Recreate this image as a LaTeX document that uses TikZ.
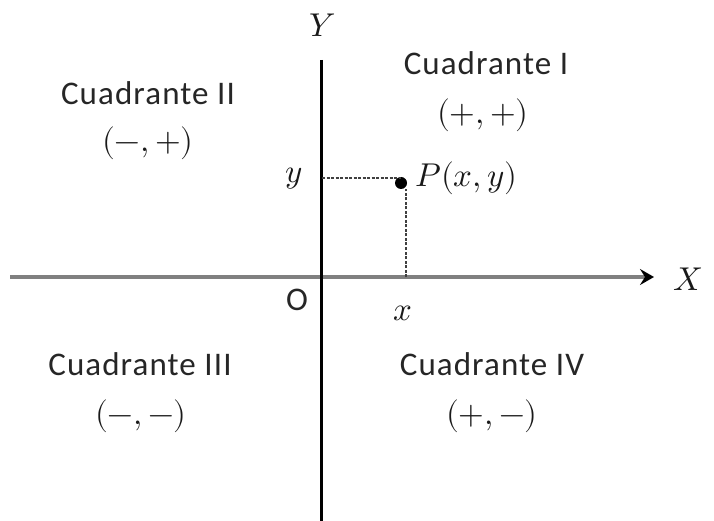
\documentclass[tikz,border=0pt]{standalone}
\usepackage{fontspec}
\usepackage{unicode-math}
\setmainfont{Carlito}[LetterSpace=3.3]
\setmathfont{Latin Modern Math}
\usetikzlibrary{arrows.meta}
\tikzset{
  lbl/.style={anchor=base, inner sep=0pt, text=black!85, font=\fontsize{33}{40}\selectfont},
  mlbl/.style={anchor=base, inner sep=0pt, text=black!90, font=\fontsize{33}{40}\selectfont},
  guide/.style={line width=1.5pt, black!75, dash pattern=on 3pt off 1.5pt},
}
\begin{document}
\begin{tikzpicture}[x=1pt,y=-1pt]
\useasboundingbox (0,0) rectangle (714,521);
% axes
\coordinate (xs) at (10,277);
\coordinate (xe) at (654,277);
\coordinate (yt) at (321,60);
\coordinate (yb) at (321,521);
\draw[line width=4pt, black!50, -{Stealth[color=black, length=14pt, width=16pt, inset=5pt]}] (xs) -- (xe);
\draw[line width=3pt, black] (yt) -- (yb);
% point
\node[circle, fill=black, inner sep=0pt, minimum size=12pt] (pt) at (401,183) {};
\coordinate (hy) at (322,178);
\coordinate (vx) at (406,277);
\draw[guide] (hy) -- (hy -| pt.center);
\draw[guide] (vx) -- (vx |- pt.south);
% labels
\node[mlbl] (Ylab) at (323,37) {$Y$};
\node[mlbl] (Xlab) at (688,290) {$X$};
\node[mlbl] (ylab) at (294,183) {$y$};
\node[mlbl] (xlab) at (403,320) {$x$};
\node[mlbl, anchor=base west] (Plab) at (415,187) {$P(x,y)$};
\node[lbl] (Olab) at (297,310) {O};
% quadrants
\node[lbl] (q1) at (486,75) {Cuadrante I};
\node[mlbl] (s1) at (483,124) {$(+,+)$};
\node[lbl] (q2) at (148,105) {Cuadrante II};
\node[mlbl] (s2) at (148,152) {$(-,+)$};
\node[lbl] (q3) at (140,375) {Cuadrante III};
\node[mlbl] (s3) at (141,424) {$(-,-)$};
\node[lbl] (q4) at (492,375) {Cuadrante IV};
\node[mlbl] (s4) at (492,424) {$(+,-)$};
\end{tikzpicture}
\end{document}
